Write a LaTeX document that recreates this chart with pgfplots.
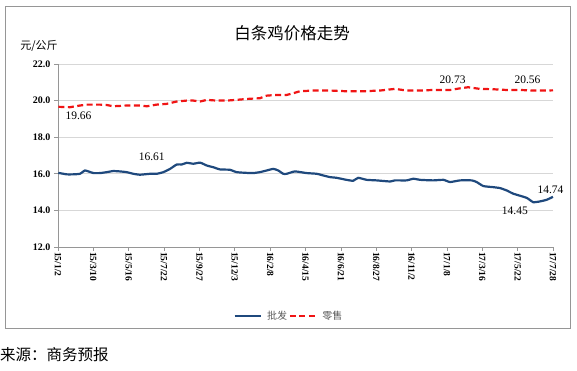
\documentclass[border=0pt]{standalone}
\usepackage{pgfplots}
\pgfplotsset{compat=1.18}
\usepackage{fontspec}
\setmainfont{Liberation Serif}
\newfontfamily\cjk{Noto Sans CJK SC}
\definecolor{pifa}{RGB}{31,73,125}
\definecolor{lingshou}{RGB}{240,20,20}
\definecolor{gridc}{RGB}{215,215,215}
\definecolor{framec}{RGB}{150,150,150}
\begin{document}
\begin{tikzpicture}[x=1pt,y=1pt]
\useasboundingbox (0,0) rectangle (577,371);
\draw[framec, line width=0.8pt] (5,43) rectangle (570,365);
\node[font=\cjk\fontsize{16.5}{18}\selectfont, anchor=center] at (292,338) {白条鸡价格走势};
\node[font=\cjk\fontsize{11}{12}\selectfont, anchor=center] at (39,325) {元/公斤};
\node[font=\cjk\fontsize{15.5}{17}\selectfont, anchor=west, inner sep=0pt] at (0,16) {来源：商务预报};
\begin{axis}[
  at={(58pt,124pt)}, anchor=south west, scale only axis,
  width=495pt, height=183pt,
  xmin=0, xmax=14, ymin=12, ymax=22,
  clip=false,
  axis x line*=bottom, axis y line*=left,
  axis line style={gridc!70!black, line width=0.6pt, -},
  xtick={0,...,14},
  xticklabels={15/1/2,15/3/10,15/5/16,15/7/22,15/9/27,15/12/3,16/2/8,16/4/15,16/6/21,16/8/27,16/11/2,17/1/8,17/3/16,17/5/22,17/7/28},
  xticklabel style={rotate=-90, anchor=west, font=\fontsize{9.5}{10}\selectfont\bfseries, inner sep=1pt},
  ytick={12,14,...,22},
  yticklabel style={font=\fontsize{10}{11}\selectfont\bfseries, /pgf/number format/.cd, fixed, fixed zerofill, precision=1, assume math mode=true},
  tick style={gridc!70!black, line width=0.6pt},
  tick align=outside, major tick length=4pt,
  ymajorgrids, grid style={gridc, line width=0.8pt},
  legend style={at={(0.466,-0.377)}, anchor=center, draw=none, fill=none, legend columns=2,
    font=\cjk\fontsize{10}{11}\selectfont\color{black!65},
    /tikz/every even column/.style={column sep=0pt},
    /tikz/every odd column/.style={column sep=4pt},
    nodes={inner xsep=1.5pt}},
  legend image code/.code={\draw[#1] (0pt,0pt) -- (26pt,0pt);},
]
\addplot[pifa, line width=2.2pt, smooth, tension=0.3] coordinates {
(0.01,16.05)(0.25,15.97)(0.43,15.97)(0.62,16.00)(0.76,16.18)(0.86,16.13)(1.00,16.04)(1.19,16.04)
(1.38,16.09)(1.56,16.15)(1.75,16.13)(1.94,16.09)(2.13,16.00)(2.32,15.95)(2.60,16.00)(2.79,16.00)
(2.98,16.09)(3.17,16.27)(3.36,16.51)(3.50,16.51)(3.64,16.60)(3.83,16.55)(4.02,16.61)(4.21,16.45)
(4.39,16.36)(4.58,16.24)(4.86,16.22)(5.05,16.09)(5.34,16.05)(5.52,16.04)(5.71,16.09)(5.90,16.18)
(6.09,16.27)(6.23,16.18)(6.37,16.00)(6.47,16.00)(6.70,16.13)(7.03,16.04)(7.32,16.00)(7.50,15.91)
(7.69,15.82)(7.88,15.78)(8.16,15.67)(8.35,15.62)(8.49,15.78)(8.73,15.67)(9.01,15.64)(9.39,15.58)
(9.53,15.64)(9.86,15.64)(10.05,15.73)(10.24,15.67)(10.61,15.64)(10.90,15.67)(11.09,15.55)(11.37,15.64)
(11.70,15.64)(11.84,15.55)(12.03,15.33)(12.31,15.27)(12.50,15.22)(12.69,15.09)(12.88,14.91)(13.25,14.69)
(13.44,14.45)(13.63,14.49)(13.82,14.58)(14.00,14.74)
};
\addlegendentry{批发}
\addplot[lingshou, line width=2.2pt, dash pattern=on 6pt off 3.5pt] coordinates {
(0.01,19.66)(0.34,19.64)(0.62,19.73)(0.81,19.78)(1.19,19.78)(1.38,19.76)(1.56,19.69)(1.94,19.73)
(2.32,19.73)(2.51,19.69)(2.79,19.78)(3.07,19.82)(3.36,19.95)(3.64,20.00)(3.83,20.00)(4.02,19.95)
(4.21,20.04)(4.49,20.00)(4.77,20.00)(5.05,20.04)(5.34,20.09)(5.71,20.13)(5.90,20.27)(6.18,20.31)
(6.47,20.31)(6.65,20.40)(6.84,20.51)(7.22,20.55)(7.69,20.55)(8.16,20.51)(8.63,20.51)(9.11,20.55)
(9.53,20.64)(9.86,20.55)(10.24,20.55)(10.61,20.58)(11.09,20.58)(11.37,20.67)(11.60,20.73)(11.93,20.64)
(12.31,20.62)(12.69,20.58)(13.07,20.58)(13.44,20.55)(13.82,20.55)(14.00,20.56)
};
\addlegendentry{零售}
\node[font=\fontsize{11.5}{12}\selectfont] at (axis cs:0.58,19.15) {19.66};
\node[font=\fontsize{11.5}{12}\selectfont] at (axis cs:2.65,16.95) {16.61};
\node[font=\fontsize{11.5}{12}\selectfont] at (axis cs:11.16,21.15) {20.73};
\node[font=\fontsize{11.5}{12}\selectfont] at (axis cs:13.28,21.15) {20.56};
\node[font=\fontsize{11.5}{12}\selectfont] at (axis cs:12.92,14.0) {14.45};
\node[font=\fontsize{11.5}{12}\selectfont] at (axis cs:13.93,15.1) {14.74};
\end{axis}
\end{tikzpicture}
\end{document}
